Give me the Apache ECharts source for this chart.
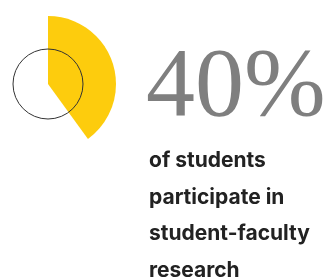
<!DOCTYPE html>
<html>
<head>
<meta charset="utf-8">
<script src="https://cdn.jsdelivr.net/npm/echarts@6/dist/echarts.min.js"></script>
<style>
  html, body { margin: 0; padding: 0; background: #fff; }
  #chartDiv { width: 323px; height: 279px; }
</style>
</head>
<body>
<div id="chartDiv"></div>
<script>
var myChart = echarts.init(document.getElementById('chartDiv'));

var sliceNames = ['participate', 'rest'];
var sliceValues = [40, 60];
var bigLabel = '40%';
var captionLines = ['of students', 'participate in', 'student-faculty', 'research'];

var option = {
    backgroundColor: '#fff',
    animation: false,
    series: [
        {
            type: 'pie',
            center: [48, 84],
            radius: [0, 68],
            startAngle: 90,
            clockwise: true,
            silent: true,
            label: {show: false},
            labelLine: {show: false},
            data: sliceNames.map(function (n, i) {
                return {
                    name: n,
                    value: sliceValues[i],
                    itemStyle: {color: i === 0 ? '#fdcc0d' : 'rgba(0,0,0,0)'}
                };
            })
        },
        {
            type: 'pie',
            center: [48, 84],
            radius: [0, 35],
            silent: true,
            label: {show: false},
            labelLine: {show: false},
            data: [{
                name: 'ring',
                value: 1,
                itemStyle: {color: 'rgba(0,0,0,0)', borderColor: '#333', borderWidth: 1}
            }]
        }
    ],
    graphic: [
        {
            type: 'text',
            left: 146,
            top: 40,
            style: {
                text: bigLabel,
                font: '98px "Liberation Serif", serif',
                fill: '#7f7f7f'
            }
        },
        {
            type: 'text',
            left: 149,
            top: 142,
            style: {
                text: captionLines.join('\n'),
                font: 'bold 21px Inter, sans-serif',
                lineHeight: 36.8,
                fill: '#222'
            }
        }
    ]
};
myChart.setOption(option);
</script>
</body>
</html>
